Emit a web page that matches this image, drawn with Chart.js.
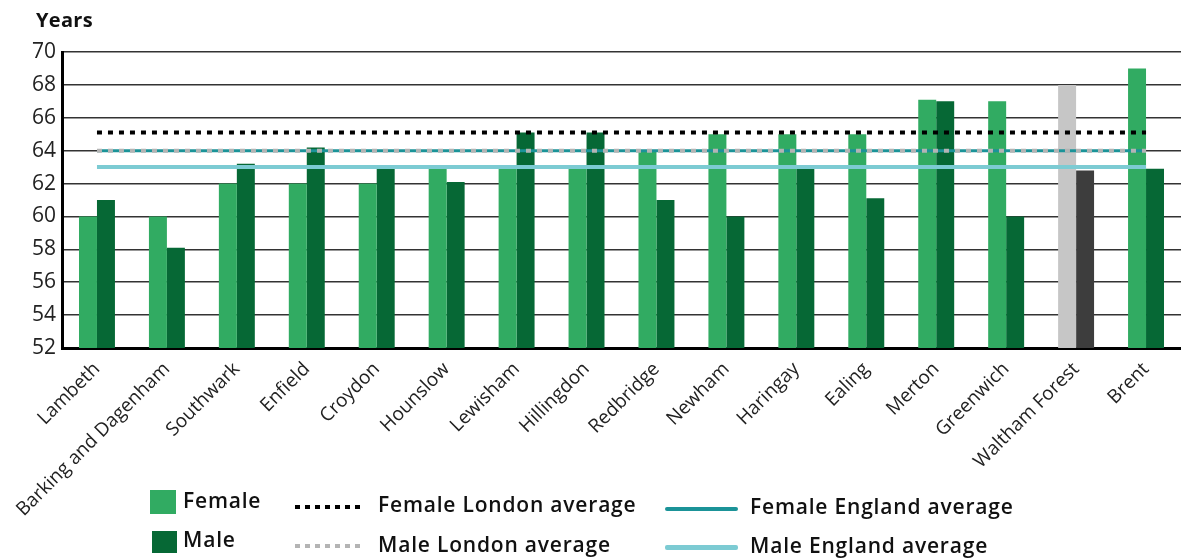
<!DOCTYPE html>
<html>
<head>
<meta charset="utf-8">
<script src="https://cdn.jsdelivr.net/npm/chart.js@4/dist/chart.umd.min.js"></script>
<style>
  body { margin: 0; background: #fff; font-family: "Open Sans", sans-serif; }
  #wrap { position: relative; width: 1181px; height: 558px; overflow: hidden; }
  .lbl { position: absolute; font-size: 21px; font-weight: 600; color: #111; white-space: nowrap; line-height: 1; letter-spacing: 0.8px; }
  .sw { position: absolute; }
</style>
</head>
<body>
<div id="wrap">
  <canvas id="chart" width="1181" height="558"></canvas>
  <div class="lbl" style="left:36px;top:10px;font-weight:700;font-size:20px;letter-spacing:0.3px;">Years</div>

  <div class="sw" style="left:150px;top:490px;width:26px;height:24px;background:#31ab62;"></div>
  <div class="lbl" style="left:183px;top:490px;">Female</div>
  <div class="sw" style="left:152px;top:531px;width:25px;height:22px;background:#066835;"></div>
  <div class="lbl" style="left:183px;top:529px;">Male</div>

  <div class="sw" style="left:295px;top:505px;width:68px;height:4px;background:repeating-linear-gradient(90deg,#000 0 5px,transparent 5px 10px);"></div>
  <div class="lbl" style="left:378px;top:494px;">Female London average</div>
  <div class="sw" style="left:295px;top:544px;width:68px;height:4px;background:repeating-linear-gradient(90deg,#b4b4b4 0 5px,transparent 5px 10px);"></div>
  <div class="lbl" style="left:378px;top:534px;">Male London average</div>

  <div class="sw" style="left:665px;top:507px;width:73px;height:4px;background:#1b9398;border-radius:2px;"></div>
  <div class="lbl" style="left:750px;top:496px;">Female England average</div>
  <div class="sw" style="left:665px;top:545px;width:73px;height:5px;background:#7ccbd3;border-radius:2px;"></div>
  <div class="lbl" style="left:750px;top:535px;">Male England average</div>
</div>
<script>
const boroughs = ['Lambeth', 'Barking and Dagenham', 'Southwark', 'Enfield', 'Croydon', 'Hounslow',
  'Lewisham', 'Hillingdon', 'Redbridge', 'Newham', 'Haringay', 'Ealing', 'Merton', 'Greenwich',
  'Waltham Forest', 'Brent'];
const female = [60, 60, 62, 62, 62, 63, 63, 63, 64, 65, 65, 65, 67.1, 67, 68, 69];
const male = [61, 58.1, 63.2, 64.2, 63, 62.1, 65.1, 65.1, 61, 60, 62.9, 61.1, 67, 60, 62.8, 62.9];
const femaleLondonAvg = 65.1;
const maleLondonAvg = 64;
const femaleEnglandAvg = 64;
const maleEnglandAvg = 63;
const yTicks = [52, 54, 56, 58, 60, 62, 64, 66, 68, 70];

const highlight = 'Waltham Forest';
const femaleColors = boroughs.map(b => b === highlight ? '#c6c6c6' : '#31ab62');
const maleColors = boroughs.map(b => b === highlight ? '#3d3d3d' : '#066835');
const flat = v => boroughs.map(() => v);

function lineSet(label, value, color, width, dash) {
  return {
    type: 'line', label: label, data: flat(value), borderColor: color, borderWidth: width,
    borderDash: dash, pointRadius: 0, fill: false, order: 0
  };
}

new Chart(document.getElementById('chart').getContext('2d'), {
  data: {
    labels: boroughs,
    datasets: [
      lineSet('Female London average', femaleLondonAvg, '#000', 4, [5, 6]),
      lineSet('Male London average', maleLondonAvg, '#b4b4b4', 4, [5, 6]),
      lineSet('Female England average', femaleEnglandAvg, '#1b9398', 3, []),
      lineSet('Male England average', maleEnglandAvg, '#7ccbd3', 4, []),
      { type: 'bar', label: 'Female', data: female, backgroundColor: femaleColors, order: 1,
        barPercentage: 1, categoryPercentage: 0.514 },
      { type: 'bar', label: 'Male', data: male, backgroundColor: maleColors, order: 1,
        barPercentage: 1, categoryPercentage: 0.514 }
    ]
  },
  options: {
    responsive: false,
    animation: false,
    layout: { padding: { top: 52, right: -2, left: 0, bottom: 0 } },
    plugins: { legend: { display: false }, tooltip: { enabled: false } },
    scales: {
      x: {
        grid: { display: false },
        border: { display: true, color: '#000', width: 3 },
        ticks: {
          minRotation: 45, maxRotation: 45, autoSkip: false, padding: 2,
          color: '#222', font: { family: 'Open Sans', size: 19 }
        },
        afterFit: s => { s.height = 210; }
      },
      y: {
        min: 52, max: 70,
        afterBuildTicks: s => { s.ticks = yTicks.map(v => ({ value: v })); },
        grid: { color: '#333', lineWidth: 1.5, drawTicks: false },
        border: { display: true, color: '#000', width: 3 },
        ticks: { padding: 6, color: '#222', font: { family: 'Open Sans', size: 21 } },
        afterFit: s => { s.width = 62; }
      }
    }
  }
});
</script>
</body>
</html>
